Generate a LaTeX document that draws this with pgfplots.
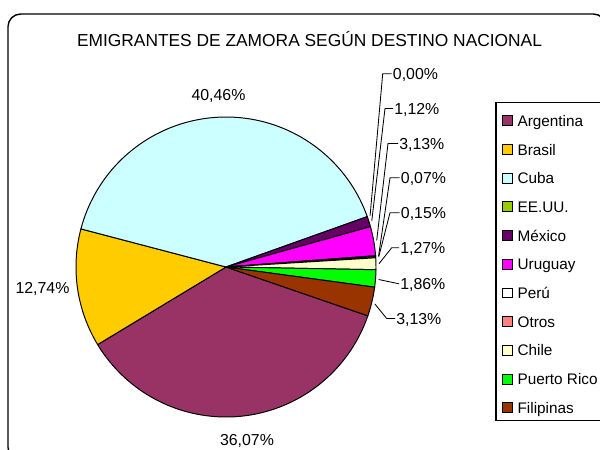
\documentclass[border=0pt]{standalone}
\usepackage{pgfplots}
\pgfplotsset{compat=1.18}
\usepackage{fontspec}
\setmainfont{Liberation Sans}
\definecolor{cArg}{HTML}{993366}
\definecolor{cBra}{HTML}{FFCC00}
\definecolor{cCub}{HTML}{CCFFFF}
\definecolor{cEEU}{HTML}{99CC00}
\definecolor{cMex}{HTML}{660066}
\definecolor{cUru}{HTML}{FF00FF}
\definecolor{cPer}{HTML}{FFFFFF}
\definecolor{cOtr}{HTML}{FF8080}
\definecolor{cChi}{HTML}{FFFFCC}
\definecolor{cPue}{HTML}{00FF00}
\definecolor{cFil}{HTML}{993300}
\tikzset{lab/.style={font=\fontsize{11.3}{13}\selectfont, inner sep=0pt},
         leg/.style={font=\fontsize{10.9}{13}\selectfont, inner sep=0pt}}
\def\cur{-19}
\newcommand\slice[2]{%
  \pgfmathsetmacro\nxt{\cur-3.6*#1}%
  \edef\doslice{\noexpand\addplot[fill=#2, draw=black, line width=0.7pt, domain=\nxt:\cur, samples=80, variable=\noexpand\t] ({226+150*cos(\noexpand\t)},{267-150*sin(\noexpand\t)}) -- (axis cs:226,267) -- cycle;}%
  \doslice
  \global\let\cur\nxt
}
\newcommand\legitem[3]{% y, colour, text
  \addplot[only marks, mark=square*, mark size=3.54pt, mark options={fill=#2, draw=black, line width=0.6pt}] coordinates {(507.7,#1)};
  \node[leg, anchor=base west] at (axis cs:517.3,#1+5.6) {#3};
}
\begin{document}
\begin{tikzpicture}
\begin{axis}[
  hide axis, scale only axis, width=15cm, height=11.25cm,
  xmin=0, xmax=600, ymin=0, ymax=450, y dir=reverse, clip=false,
]
\coordinate (BL) at (axis cs:0,450);
\coordinate (TR) at (axis cs:600,0);
\draw[line width=1pt, rounded corners=9pt] (axis cs:8,14) rectangle (axis cs:606,460);
% pie (percent values)
\slice{36.07}{cArg}
\slice{12.74}{cBra}
\slice{40.46}{cCub}
% EE.UU. 0.00
\slice{1.12}{cMex}
\slice{3.13}{cUru}
\slice{0.07}{cPer}
\slice{0.15}{cOtr}
\slice{1.27}{cChi}
\slice{1.86}{cPue}
\slice{3.13}{cFil}
% title
\node[anchor=base, inner sep=0pt, font=\fontsize{12.35}{14}\selectfont] at (axis cs:309.5,46.7) {EMIGRANTES DE ZAMORA SEGÚN DESTINO NACIONAL};
% big labels
\node[lab, anchor=base] at (axis cs:218.5,100.7) {40,46\%};
\node[lab, anchor=base] at (axis cs:42.5,293.3) {12,74\%};
\node[lab, anchor=base] at (axis cs:247,445) {36,07\%};
% leader lines
\addplot[black, line width=0.6pt] coordinates {(370.1,215.6) (382.7,73.8) (391.5,73.8)};
\addplot[black, line width=0.6pt] coordinates {(371.8,220.7) (385,108.5) (393,108.5)};
\addplot[black, line width=0.6pt] coordinates {(376.7,240.5) (388,143.5) (398,143.5)};
\addplot[black, line width=0.6pt] coordinates {(378.6,255.8) (390,177.8) (399.5,177.8)};
\addplot[black, line width=0.6pt] coordinates {(378.7,256.9) (390,212.8) (399.5,212.8)};
\addplot[black, line width=0.6pt] coordinates {(379,263.7) (391.7,247.8) (399,247.8)};
\addplot[black, line width=0.6pt] coordinates {(378.6,279.5) (399,283.8)};
\addplot[black, line width=0.6pt] coordinates {(374.9,304) (386.7,318.5) (395,318.5)};
% small labels
\node[lab, anchor=base west] at (axis cs:392.7,79.3) {0,00\%};
\node[lab, anchor=base west] at (axis cs:394,114) {1,12\%};
\node[lab, anchor=base west] at (axis cs:399,149) {3,13\%};
\node[lab, anchor=base west] at (axis cs:400.7,183.3) {0,07\%};
\node[lab, anchor=base west] at (axis cs:400.7,218.3) {0,15\%};
\node[lab, anchor=base west] at (axis cs:400,253.3) {1,27\%};
\node[lab, anchor=base west] at (axis cs:400,289.3) {1,86\%};
\node[lab, anchor=base west] at (axis cs:396,324) {3,13\%};
% legend
\draw[line width=0.8pt] (axis cs:496,102.7) rectangle (axis cs:604,420.7);
\legitem{120.7}{cArg}{Argentina}
\legitem{149.4}{cBra}{Brasil}
\legitem{178.1}{cCub}{Cuba}
\legitem{206.8}{cEEU}{EE.UU.}
\legitem{235.5}{cMex}{México}
\legitem{264.2}{cUru}{Uruguay}
\legitem{292.9}{cPer}{Perú}
\legitem{321.6}{cOtr}{Otros}
\legitem{350.3}{cChi}{Chile}
\legitem{379.0}{cPue}{Puerto Rico}
\legitem{407.7}{cFil}{Filipinas}
\end{axis}
\pgfresetboundingbox
\path (BL) rectangle (TR);
\end{tikzpicture}
\end{document}
